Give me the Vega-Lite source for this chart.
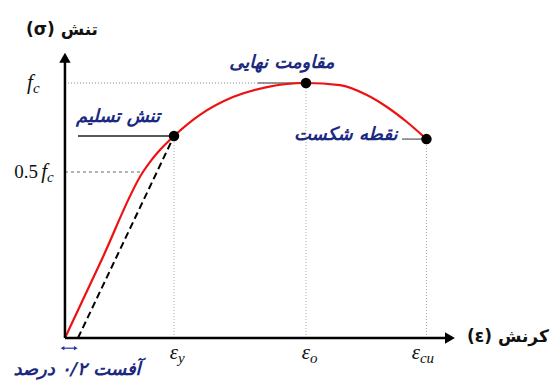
{
  "$schema": "https://vega.github.io/schema/vega-lite/v6.json",
  "autosize": {"type": "fit", "contains": "padding"},
  "width": 556,
  "height": 380,
  "padding": 0,
  "background": "white",
  "config": {"view": {"stroke": null}},
  "datasets": {
    "curve": [
      {"strain": 0, "stress": 0},
      {"strain": 0.3, "stress": 0.302},
      {"strain": 0.647, "stress": 0.651},
      {"strain": 0.705, "stress": 0.69},
      {"strain": 0.788, "stress": 0.737},
      {"strain": 0.905, "stress": 0.792},
      {"strain": 1.12, "stress": 0.875},
      {"strain": 1.394, "stress": 0.945},
      {"strain": 1.676, "stress": 0.984},
      {"strain": 2.0, "stress": 1.0},
      {"strain": 2.282, "stress": 0.992},
      {"strain": 2.506, "stress": 0.953},
      {"strain": 2.672, "stress": 0.906},
      {"strain": 2.838, "stress": 0.847},
      {"strain": 3.0, "stress": 0.78}
    ],
    "offsetLine": [
      {"strain": 0.108, "stress": 0},
      {"strain": 0.905, "stress": 0.792}
    ],
    "keyPoints": [
      {"strain": 0.905, "stress": 0.792},
      {"strain": 2.0, "stress": 1.0},
      {"strain": 3.0, "stress": 0.78}
    ],
    "verticals": [
      {"x": 0.905, "y": 0, "y2": 0.792},
      {"x": 2.0, "y": 0, "y2": 1.0},
      {"x": 3.0, "y": 0, "y2": 0.78}
    ],
    "fcLine": [{"x": 0, "x2": 2.0, "y": 1.0}],
    "halfLine": [{"x": 0, "x2": 0.647, "y": 0.651}],
    "yieldLeader": [{"x": 0.108, "x2": 0.905, "y": 0.792}],
    "grayLeaders": [
      {"x": 1.6, "x2": 2.0, "y": 1.0},
      {"x": 2.797, "x2": 3.0, "y": 0.78}
    ],
    "yAxisLine": [{"x": 0, "y": 0, "y2": 1.1}],
    "xAxisLine": [{"x": 0, "x2": 3.2, "y": 0}],
    "yArrow": [{"x": 0, "y": 1.099}],
    "xArrow": [{"x": 3.195, "y": 0}],
    "offsetBar": [{"x": -0.02, "x2": 0.09, "y": -0.04}],
    "offsetArrowL": [{"x": -0.02, "y": -0.04}],
    "offsetArrowR": [{"x": 0.09, "y": -0.04}],
    "ticks": [
      {"x": -0.266, "y": 1.0, "pre": "", "main": "f", "sub": "c"},
      {"x": -0.149, "y": 0.651, "pre": "0.5", "main": "f", "sub": "c"},
      {"x": 0.938, "y": -0.058, "pre": "", "main": "ε", "sub": "y"},
      {"x": 2.033, "y": -0.058, "pre": "", "main": "ε", "sub": "o"},
      {"x": 2.946, "y": -0.058, "pre": "", "main": "ε", "sub": "cu"}
    ],
    "blueLabels": [
      {"x": 0.44, "y": 0.866, "label": "\u2067تنش تسلیم\u2069"},
      {"x": 1.80, "y": 1.08, "label": "\u2067مقاومت نهایی\u2069"},
      {"x": 2.33, "y": 0.796, "label": "\u2067نقطه شکست\u2069"},
      {"x": 0.10, "y": -0.125, "label": "\u2067آفست ۰/۲ درصد\u2069"}
    ],
    "axisTitles": [
      {"x": -0.025, "y": 1.208, "label": "\u2067تنش (σ)\u2069"},
      {"x": 3.676, "y": 0.004, "label": "\u2067کرنش (ε)\u2069"}
    ]
  },
  "encoding": {
    "x": {"type": "quantitative", "scale": {"domain": [-0.539, 4.075], "nice": false, "zero": false}, "axis": null},
    "y": {"type": "quantitative", "scale": {"domain": [-0.1647, 1.3255], "nice": false, "zero": false}, "axis": null}
  },
  "layer": [
    {"data": {"name": "verticals"}, "mark": {"type": "rule", "color": "#aaaaaa", "strokeWidth": 1, "strokeDash": [1, 2]},
     "encoding": {"x": {"field": "x", "type": "quantitative"}, "y": {"field": "y", "type": "quantitative"}, "y2": {"field": "y2"}}},
    {"data": {"name": "fcLine"}, "mark": {"type": "rule", "color": "#888888", "strokeWidth": 1, "strokeDash": [1, 2]},
     "encoding": {"x": {"field": "x", "type": "quantitative"}, "x2": {"field": "x2"}, "y": {"field": "y", "type": "quantitative"}}},
    {"data": {"name": "halfLine"}, "mark": {"type": "rule", "color": "#666666", "strokeWidth": 1, "strokeDash": [3, 3]},
     "encoding": {"x": {"field": "x", "type": "quantitative"}, "x2": {"field": "x2"}, "y": {"field": "y", "type": "quantitative"}}},
    {"data": {"name": "yieldLeader"}, "mark": {"type": "rule", "color": "#222222", "strokeWidth": 1.5},
     "encoding": {"x": {"field": "x", "type": "quantitative"}, "x2": {"field": "x2"}, "y": {"field": "y", "type": "quantitative"}}},
    {"data": {"name": "grayLeaders"}, "mark": {"type": "rule", "color": "#777777", "strokeWidth": 1.5},
     "encoding": {"x": {"field": "x", "type": "quantitative"}, "x2": {"field": "x2"}, "y": {"field": "y", "type": "quantitative"}}},
    {"data": {"name": "offsetLine"}, "mark": {"type": "line", "color": "#000000", "strokeWidth": 2, "strokeDash": [7, 4]},
     "encoding": {"x": {"field": "strain", "type": "quantitative"}, "y": {"field": "stress", "type": "quantitative"}}},
    {"data": {"name": "curve"}, "mark": {"type": "line", "color": "#ee1111", "strokeWidth": 2.2, "interpolate": "monotone"},
     "encoding": {"x": {"field": "strain", "type": "quantitative"}, "y": {"field": "stress", "type": "quantitative"}}},
    {"data": {"name": "yAxisLine"}, "mark": {"type": "rule", "color": "#000000", "strokeWidth": 2.5},
     "encoding": {"x": {"field": "x", "type": "quantitative"}, "y": {"field": "y", "type": "quantitative"}, "y2": {"field": "y2"}}},
    {"data": {"name": "xAxisLine"}, "mark": {"type": "rule", "color": "#000000", "strokeWidth": 2.5},
     "encoding": {"x": {"field": "x", "type": "quantitative"}, "x2": {"field": "x2"}, "y": {"field": "y", "type": "quantitative"}}},
    {"data": {"name": "yArrow"}, "mark": {"type": "point", "shape": "triangle-up", "filled": true, "color": "#000000", "size": 130, "opacity": 1},
     "encoding": {"x": {"field": "x", "type": "quantitative"}, "y": {"field": "y", "type": "quantitative"}}},
    {"data": {"name": "xArrow"}, "mark": {"type": "point", "shape": "triangle-right", "filled": true, "color": "#000000", "size": 130, "opacity": 1},
     "encoding": {"x": {"field": "x", "type": "quantitative"}, "y": {"field": "y", "type": "quantitative"}}},
    {"data": {"name": "offsetBar"}, "mark": {"type": "rule", "color": "#2233aa", "strokeWidth": 1.2},
     "encoding": {"x": {"field": "x", "type": "quantitative"}, "x2": {"field": "x2"}, "y": {"field": "y", "type": "quantitative"}}},
    {"data": {"name": "offsetArrowL"}, "mark": {"type": "point", "shape": "triangle-left", "filled": true, "color": "#2233aa", "size": 18, "opacity": 1},
     "encoding": {"x": {"field": "x", "type": "quantitative"}, "y": {"field": "y", "type": "quantitative"}}},
    {"data": {"name": "offsetArrowR"}, "mark": {"type": "point", "shape": "triangle-right", "filled": true, "color": "#2233aa", "size": 18, "opacity": 1},
     "encoding": {"x": {"field": "x", "type": "quantitative"}, "y": {"field": "y", "type": "quantitative"}}},
    {"data": {"name": "keyPoints"}, "mark": {"type": "point", "shape": "circle", "filled": true, "color": "#000000", "size": 110, "opacity": 1},
     "encoding": {"x": {"field": "strain", "type": "quantitative"}, "y": {"field": "stress", "type": "quantitative"}}},
    {"data": {"name": "ticks"}, "mark": {"type": "text", "align": "right", "baseline": "middle", "font": "Liberation Serif", "fontStyle": "italic", "fontSize": 21, "color": "#111111"},
     "encoding": {"x": {"field": "x", "type": "quantitative"}, "y": {"field": "y", "type": "quantitative"}, "text": {"field": "main"}}},
    {"data": {"name": "ticks"}, "mark": {"type": "text", "align": "left", "baseline": "middle", "font": "Liberation Serif", "fontStyle": "italic", "fontSize": 15, "dy": 5, "dx": 0, "color": "#111111"},
     "encoding": {"x": {"field": "x", "type": "quantitative"}, "y": {"field": "y", "type": "quantitative"}, "text": {"field": "sub"}}},
    {"data": {"name": "ticks"}, "mark": {"type": "text", "align": "right", "baseline": "middle", "font": "Liberation Serif", "fontSize": 19, "dx": -9, "color": "#111111"},
     "encoding": {"x": {"field": "x", "type": "quantitative"}, "y": {"field": "y", "type": "quantitative"}, "text": {"field": "pre"}}},
    {"data": {"name": "blueLabels"}, "mark": {"type": "text", "align": "center", "baseline": "middle", "font": "DejaVu Sans", "fontWeight": "bold", "fontStyle": "italic", "fontSize": 18, "color": "#1b2a80"},
     "encoding": {"x": {"field": "x", "type": "quantitative"}, "y": {"field": "y", "type": "quantitative"}, "text": {"field": "label"}}},
    {"data": {"name": "axisTitles"}, "mark": {"type": "text", "align": "center", "baseline": "middle", "font": "DejaVu Sans", "fontWeight": "bold", "fontSize": 17, "color": "#111111"},
     "encoding": {"x": {"field": "x", "type": "quantitative"}, "y": {"field": "y", "type": "quantitative"}, "text": {"field": "label"}}}
  ]
}
